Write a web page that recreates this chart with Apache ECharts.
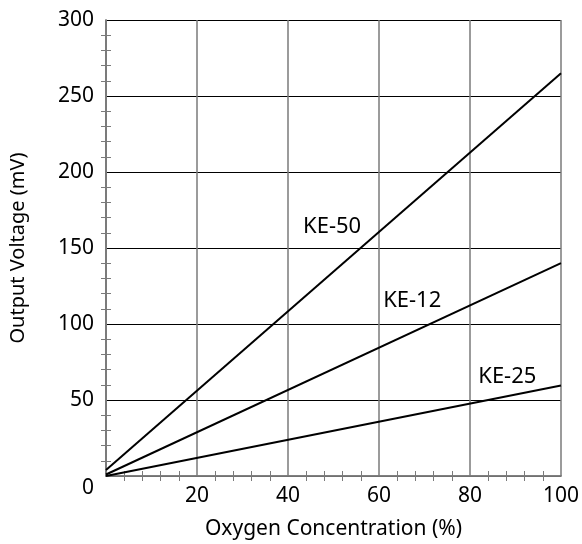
<!DOCTYPE html>
<html>
<head>
<meta charset="utf-8">
<script src="https://cdn.jsdelivr.net/npm/echarts@6/dist/echarts.min.js"></script>
<style>
  html, body { margin: 0; padding: 0; background: #fff; }
  #main { width: 582px; height: 544px; }
</style>
</head>
<body>
<div id="main"></div>
<script>
// sensor outputs, straight lines
var ke50 = [[0, 4], [100, 265]];
var ke12 = [[0, 1], [100, 140]];
var ke25 = [[0, 0], [100, 59.5]];
// where the curve names sit
var curveLabels = [
  { name: 'KE-50', value: [49.7, 163.8] },
  { name: 'KE-12', value: [67.3, 115] },
  { name: 'KE-25', value: [88.2, 65.3] }
];

var font = 'Noto Sans';
var frame = '#7a7a7a';

var myChart = echarts.init(document.getElementById('main'));

function lineSeries(name, data) {
  return {
    name: name,
    type: 'line',
    data: data,
    symbol: 'none',
    silent: true,
    lineStyle: { color: '#000', width: 2 }
  };
}

var frameLine = { show: true, lineStyle: { color: frame, width: 1.5 } };
var minor = { show: true, splitNumber: 5, length: 5, lineStyle: { color: frame } };

myChart.setOption({
  animation: false,
  grid: { left: 106, right: 21, top: 20, bottom: 68, outerBoundsMode: 'none' },
  xAxis: [{
    type: 'value',
    min: 0,
    max: 100,
    interval: 20,
    name: 'Oxygen Concentration (%)',
    nameLocation: 'middle',
    nameGap: 43,
    nameTextStyle: { fontFamily: font, fontSize: 21, color: '#000', verticalAlign: 'top' },
    axisLine: frameLine,
    axisTick: { show: false },
    minorTick: minor,
    axisLabel: {
      fontFamily: font, fontSize: 21, color: '#000', margin: 10,
      formatter: function (v) { return v === 0 ? '' : v; }
    },
    splitLine: { show: true, lineStyle: { color: frame, width: 1.5 } }
  }, {
    type: 'value',
    position: 'top',
    min: 0,
    max: 100,
    interval: 20,
    axisLine: frameLine,
    axisTick: { show: false },
    minorTick: minor,
    axisLabel: { show: false },
    splitLine: { show: false }
  }],
  yAxis: [{
    type: 'value',
    min: 0,
    max: 300,
    interval: 50,
    name: 'Output Voltage (mV)',
    nameLocation: 'middle',
    nameGap: 78,
    nameTextStyle: { fontFamily: font, fontSize: 20, color: '#000' },
    axisLine: frameLine,
    axisTick: { show: false },
    minorTick: minor,
    axisLabel: {
      fontFamily: font, fontSize: 21, color: '#000', margin: 12,
      formatter: function (v) { return v === 0 ? '{z|0}' : v; },
      rich: { z: { fontFamily: font, fontSize: 21, color: '#000', padding: [24, 0, 0, 0] } }
    },
    splitLine: { show: true, lineStyle: { color: '#000', width: 1 } }
  }, {
    type: 'value',
    position: 'right',
    min: 0,
    max: 300,
    interval: 50,
    axisLine: frameLine,
    axisTick: { show: false },
    minorTick: minor,
    axisLabel: { show: false },
    splitLine: { show: false }
  }],
  series: [
    lineSeries('KE-50', ke50),
    lineSeries('KE-12', ke12),
    lineSeries('KE-25', ke25),
    {
      type: 'scatter',
      data: curveLabels,
      symbolSize: 0,
      silent: true,
      itemStyle: { opacity: 1 },
      label: {
        show: true,
        position: 'inside',
        formatter: '{b}',
        fontFamily: font,
        fontSize: 22,
        color: '#000',
        opacity: 1
      }
    }
  ]
});
</script>
</body>
</html>
